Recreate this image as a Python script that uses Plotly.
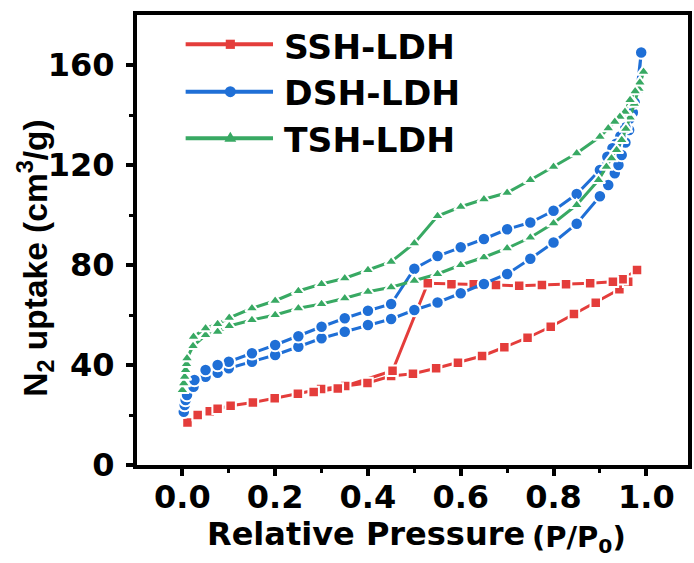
import plotly.graph_objects as go

# ---- N2 sorption isotherms (P/P0 vs uptake, cm3/g) ----
# SSH-LDH
ssh_ads_x = [0.011, 0.033, 0.059, 0.076, 0.104, 0.152, 0.199, 0.249, 0.299, 0.351, 0.399, 0.450,
             0.497, 0.547, 0.594, 0.646, 0.694, 0.744, 0.794, 0.844, 0.891, 0.942, 0.961, 0.980]
ssh_ads_y = [17.0, 20.0, 21.5, 22.5, 23.7, 25.0, 26.7, 28.5, 30.4, 31.6, 32.8, 35.6,
             36.5, 38.7, 40.9, 43.6, 47.1, 50.9, 55.3, 60.4, 64.9, 70.3, 73.3, 78.0]
ssh_des_x = [0.949, 0.928, 0.879, 0.827, 0.775, 0.726, 0.676, 0.628, 0.580, 0.529, 0.453, 0.335, 0.283]
ssh_des_y = [74.3, 73.3, 72.7, 72.3, 72.0, 71.7, 72.0, 72.3, 72.3, 72.7, 37.7, 30.6, 29.2]

# DSH-LDH
dsh_ads_x = [0.003, 0.005, 0.007, 0.010, 0.024, 0.050, 0.076, 0.100, 0.150, 0.200, 0.250, 0.300,
             0.350, 0.400, 0.450, 0.500, 0.550, 0.600, 0.650, 0.700, 0.750, 0.800, 0.850, 0.900,
             0.918, 0.932, 0.940, 0.947, 0.955, 0.963, 0.971, 0.980, 0.989]
dsh_ads_y = [21.3, 24.0, 26.0, 28.0, 31.3, 35.3, 36.9, 38.7, 41.3, 44.0, 47.3, 50.7,
             53.3, 56.0, 58.4, 62.0, 65.0, 68.7, 72.4, 76.4, 82.5, 89.0, 96.5, 107.5,
             112.0, 116.7, 120.0, 124.0, 129.0, 134.0, 141.0, 150.0, 165.0]
dsh_des_x = [0.982, 0.975, 0.964, 0.955, 0.944, 0.935, 0.927, 0.916, 0.900, 0.850, 0.800, 0.750,
             0.700, 0.650, 0.600, 0.550, 0.500, 0.450, 0.400, 0.350, 0.300, 0.250, 0.200, 0.150,
             0.100, 0.076, 0.050, 0.026]
dsh_des_y = [150.0, 145.0, 138.5, 135.0, 131.5, 128.5, 126.7, 123.3, 118.0, 108.4, 101.7, 97.0,
             94.3, 90.4, 87.1, 83.6, 78.5, 64.4, 61.7, 58.7, 55.3, 51.5, 48.0, 44.7,
             41.3, 40.0, 38.0, 34.0]

# TSH-LDH
tsh_ads_x = [0.000, 0.003, 0.005, 0.007, 0.009, 0.010, 0.023, 0.050, 0.076, 0.101, 0.150, 0.200,
             0.250, 0.300, 0.350, 0.400, 0.450, 0.500, 0.550, 0.600, 0.650, 0.700, 0.750, 0.800,
             0.850, 0.897, 0.914, 0.925, 0.936, 0.947, 0.956, 0.965, 0.974, 0.984, 0.994]
tsh_ads_y = [30.0, 32.7, 35.3, 38.0, 40.4, 42.7, 47.6, 52.0, 53.3, 55.6, 58.0, 60.0,
             62.7, 64.4, 66.7, 69.3, 71.1, 73.7, 76.4, 80.0, 83.1, 86.7, 91.0, 96.7,
             104.0, 114.0, 119.3, 122.7, 126.0, 130.0, 134.5, 139.0, 144.5, 150.5, 157.3]
tsh_des_x = [0.986, 0.976, 0.965, 0.954, 0.943, 0.932, 0.918, 0.900, 0.850, 0.800, 0.750, 0.700,
             0.650, 0.600, 0.550, 0.500, 0.450, 0.400, 0.350, 0.300, 0.250, 0.200, 0.150, 0.101,
             0.076, 0.050, 0.024]
tsh_des_y = [153.0, 149.5, 146.0, 141.3, 139.3, 137.3, 134.7, 131.3, 124.7, 119.3, 114.0, 108.9,
             106.3, 103.3, 99.6, 88.7, 81.3, 78.0, 74.7, 72.4, 69.6, 65.7, 62.7, 58.9,
             56.4, 54.7, 51.3]

names = ["SSH-LDH", "DSH-LDH", "TSH-LDH"]
colors = ["#E43D3B", "#1F6FD6", "#38A963"]
symbols = ["square", "circle", "triangle-up"]
msizes = [10.5, 12.5, 11.5]
series = [
    (ssh_ads_x + ssh_des_x, ssh_ads_y + ssh_des_y),
    (dsh_ads_x + dsh_des_x, dsh_ads_y + dsh_des_y),
    (tsh_ads_x + tsh_des_x, tsh_ads_y + tsh_des_y),
]

W, H = 694, 563
M = dict(l=137, r=2, t=15, b=98)
PW = W - M["l"] - M["r"]
PH = H - M["t"] - M["b"]


def fx(px):
    return (px - M["l"]) / PW


def fy(py):
    return (H - M["b"] - py) / PH


BOLD_WIDE = "DejaVu Sans"
BOLD_ARIAL = "Liberation Sans, Arial"

fig = go.Figure()
for (xs, ys), name, col, sym, ms in zip(series, names, colors, symbols, msizes):
    fig.add_trace(go.Scatter(
        x=xs, y=ys, mode="lines+markers", name=name,
        line=dict(color=col, width=3),
        marker=dict(symbol=sym, size=ms, color=col, line=dict(color="white", width=2)),
        showlegend=False,
    ))

# hand-built legend: line sample with a centred symbol, then the label
shapes = []
annotations = []
line_rows = [44.3, 91.7, 138.3]
text_rows = [46.7, 93.3, 140.0]
x0, x1, xm = 186, 274, 231
for i, (name, col) in enumerate(zip(names, colors)):
    yl = line_rows[i]
    shapes.append(dict(type="line", xref="paper", yref="paper",
                       x0=fx(x0), x1=fx(x1), y0=fy(yl), y1=fy(yl),
                       line=dict(color=col, width=4)))
    if symbols[i] == "square":
        h = 4.6
        shapes.append(dict(type="rect", xref="paper", yref="paper",
                           x0=fx(xm - h), x1=fx(xm + h), y0=fy(yl + h), y1=fy(yl - h),
                           fillcolor=col, line=dict(width=0)))
    elif symbols[i] == "circle":
        h = 5.5
        shapes.append(dict(type="circle", xref="paper", yref="paper",
                           x0=fx(xm - h), x1=fx(xm + h), y0=fy(yl + h), y1=fy(yl - h),
                           fillcolor=col, line=dict(width=0)))
    else:
        path = "M{:.5f},{:.5f} L{:.5f},{:.5f} L{:.5f},{:.5f} Z".format(
            fx(xm - 6), fy(yl + 3.5), fx(xm + 6), fy(yl + 3.5), fx(xm), fy(yl - 6.5))
        shapes.append(dict(type="path", xref="paper", yref="paper", path=path,
                           fillcolor=col, line=dict(width=0)))
    annotations.append(dict(xref="paper", yref="paper", x=fx(283), y=fy(text_rows[i]),
                            xanchor="left", yanchor="middle", showarrow=False, text=name,
                            font=dict(family=BOLD_WIDE, size=34.5, color="black", weight="bold")))

# axis titles
annotations.append(dict(xref="paper", yref="paper", x=fx(205), y=fy(534),
                        xanchor="left", yanchor="middle", showarrow=False,
                        text="Relative Pressure",
                        font=dict(family=BOLD_WIDE, size=32, color="black", weight="bold")))
annotations.append(dict(xref="paper", yref="paper", x=fx(533), y=fy(539),
                        xanchor="left", yanchor="middle", showarrow=False,
                        text="(P/P<sub>0</sub>)",
                        font=dict(family=BOLD_WIDE, size=29, color="black", weight="bold")))
annotations.append(dict(xref="paper", yref="paper", x=fx(34), y=fy(258),
                        xanchor="center", yanchor="middle", showarrow=False, textangle=-90,
                        text="N<sub>2</sub> uptake (cm<sup>3</sup>/g)",
                        font=dict(family=BOLD_ARIAL, size=33.5, color="black", weight="bold")))

x_min = -0.0978
x_max = x_min + PW / 467.3

fig.update_layout(
    width=W, height=H, margin=dict(l=M["l"], r=M["r"], t=M["t"], b=M["b"], pad=0),
    paper_bgcolor="white", plot_bgcolor="white",
    shapes=shapes, annotations=annotations, showlegend=False,
    xaxis=dict(range=[x_min, x_max], tick0=0, dtick=0.2, tickformat=".1f",
               ticks="outside", ticklen=7, tickwidth=3.5, tickcolor="black",
               linecolor="black", linewidth=4, mirror=True,
               showgrid=False, zeroline=False, ticklabelstandoff=-6,
               minor=dict(tick0=0.1, dtick=0.2, ticks="outside", ticklen=4, tickwidth=3, tickcolor="black"),
               tickfont=dict(family=BOLD_WIDE, size=32, color="black", weight="bold")),
    yaxis=dict(range=[0, 180], tick0=0, dtick=40,
               ticks="outside", ticklen=7, tickwidth=3.5, tickcolor="black",
               linecolor="black", linewidth=4, mirror=True,
               showgrid=False, zeroline=False, ticklabelstandoff=5,
               minor=dict(tickvals=[20, 60, 100, 140], ticks="outside", ticklen=4, tickwidth=3, tickcolor="black"),
               tickfont=dict(family=BOLD_WIDE, size=32, color="black", weight="bold")),
)

fig.write_html("out.html")
